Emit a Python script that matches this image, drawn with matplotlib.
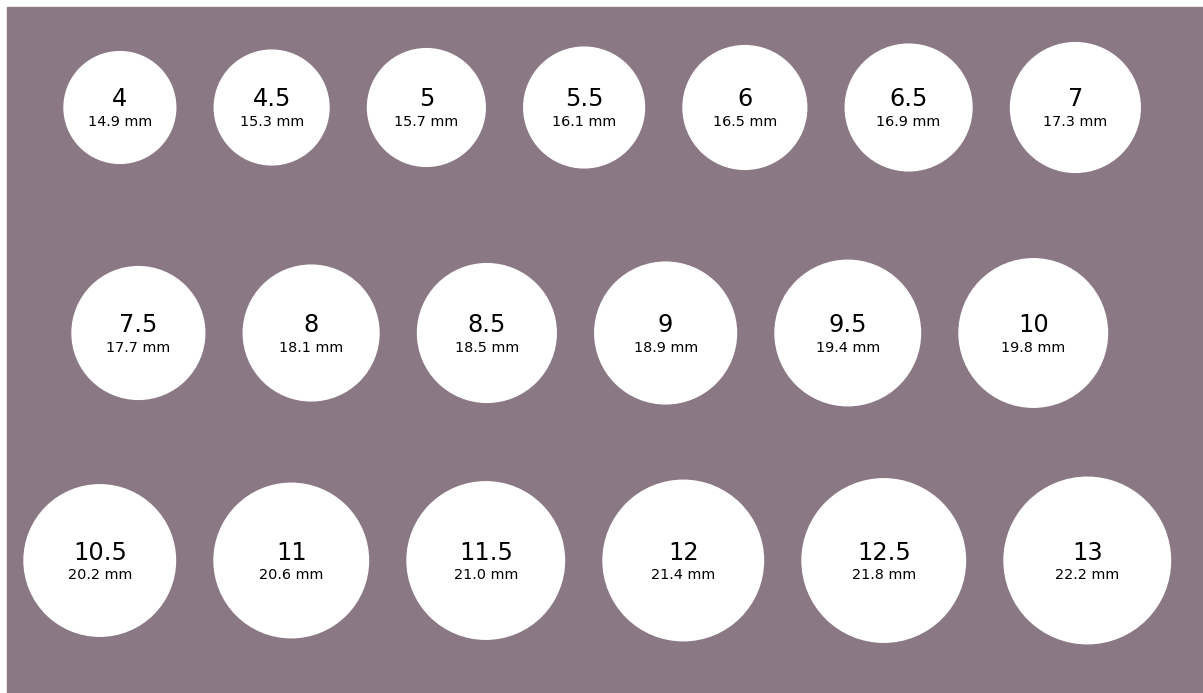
import matplotlib
matplotlib.use("Agg")
import matplotlib.pyplot as plt
from matplotlib.patches import Circle, Rectangle

# ring sizes and inside diameters (mm), one list per row
row1_sizes = ["4", "4.5", "5", "5.5", "6", "6.5", "7"]
row1_mm = [14.9, 15.3, 15.7, 16.1, 16.5, 16.9, 17.3]
row2_sizes = ["7.5", "8", "8.5", "9", "9.5", "10"]
row2_mm = [17.7, 18.1, 18.5, 18.9, 19.4, 19.8]
row3_sizes = ["10.5", "11", "11.5", "12", "12.5", "13"]
row3_mm = [20.2, 20.6, 21.0, 21.4, 21.8, 22.2]

W, H = 1203, 693
bg = "#8a7885"
px_per_mm = 7.5   # circle diameter in pixels per mm
gap = 38.5
plt.rcParams['font.family'] = ['DejaVu Sans']

fig = plt.figure(figsize=(W / 100, H / 100), dpi=100)
ax = fig.add_axes([0, 0, 1, 1])
ax.set_xlim(0, W)
ax.set_ylim(H, 0)
ax.axis('off')

ax.add_patch(Rectangle((7, 7), W - 7, H - 7, color=bg, zorder=0))

rows = [(row1_sizes, row1_mm, 64, 107.5),
        (row2_sizes, row2_mm, 72, 333),
        (row3_sizes, row3_mm, 24, 560.5)]

for sizes, mms, left, cy in rows:
    x = left
    for s, mm in zip(sizes, mms):
        r = mm * px_per_mm / 2
        cx = x + r
        ax.add_patch(Circle((cx, cy), r, color="white", zorder=1))
        ax.text(cx, cy - 1, s, ha="center", va="baseline", fontsize=17.3,
                color="black", zorder=2)
        ax.text(cx, cy + 18.5, "%.1f mm" % mm, ha="center", va="baseline",
                fontsize=10.4, color="black", zorder=2)
        x += 2 * r + gap

fig.savefig("out.png", dpi=100, facecolor="white")
